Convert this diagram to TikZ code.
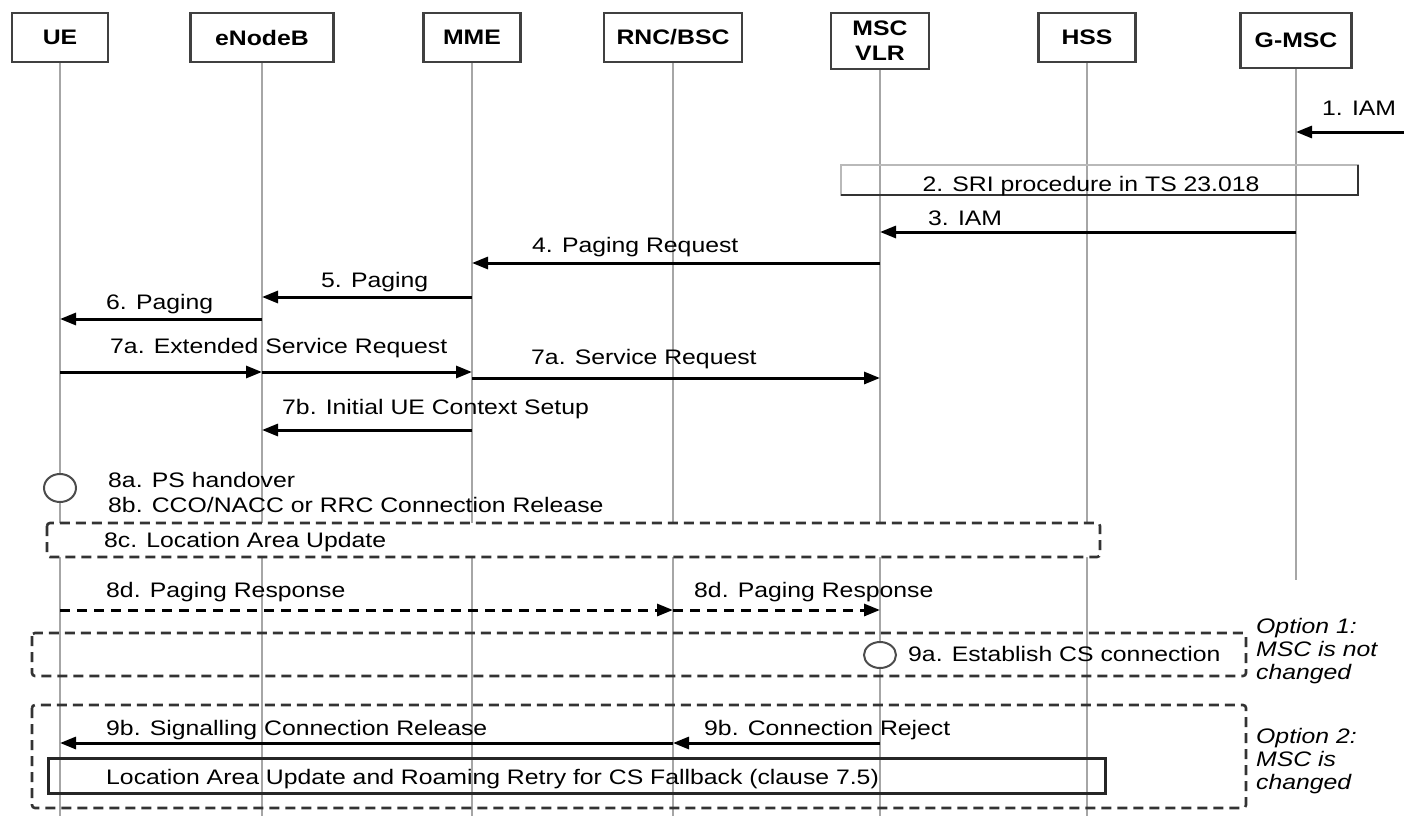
\documentclass[tikz,border=0pt]{standalone}
\usepackage{fontspec}
\setmainfont{Liberation Sans}[FakeStretch=1.18]
\usetikzlibrary{arrows.meta}

\tikzset{
	entity/.style = {draw = black!75, line width = 2.8pt, fill = white, inner sep = 0pt, align = center, font = \fontsize{21}{25}\selectfont\bfseries},
	lifeline/.style = {gray!70, line width = 1.6pt},
	msg/.style = {line width = 3pt, -{Triangle[length = 16pt, width = 12pt]}},
	dmsg/.style = {msg, dash pattern = on 10pt off 7pt},
	lbl/.style = {inner sep = 0pt, anchor = base west, font = \fontsize{21}{24}\selectfont},
	note/.style = {inner sep = 0pt, anchor = north west, align = left, font = \fontsize{21}{23}\selectfont\itshape},
	frame/.style = {draw = black!80, line width = 2.6pt, dash pattern = on 10pt off 6pt, rounded corners = 3pt},
	event/.style = {draw = black!70, line width = 2pt, fill = white}
}

\begin{document}
\begin{tikzpicture}[x = 1pt, y = -1pt]
		%canvas
		\useasboundingbox (0,0) rectangle (1404,816);
		\fill [white] (0,0) rectangle (1404,816);

		%entities
		\node [entity, minimum width = 96pt, minimum height = 49pt] (ue) at (60,37.5) {UE};
		\node [entity, minimum width = 143pt, minimum height = 49pt] (enb) at (262,37.5) {eNodeB};
		\node [entity, minimum width = 97pt, minimum height = 49pt] (mme) at (472,37.5) {MME};
		\node [entity, minimum width = 138pt, minimum height = 49pt] (rnc) at (673,37.5) {RNC/BSC};
		\node [entity, minimum width = 98pt, minimum height = 56pt] (msc) at (880,41) {MSC\\VLR};
		\node [entity, minimum width = 97pt, minimum height = 49pt] (hss) at (1087,37.5) {HSS};
		\node [entity, minimum width = 111pt, minimum height = 55pt] (gmsc) at (1296,40.5) {G-MSC};

		%lifelines
		\draw [lifeline] (ue.south) -- (ue.south |- 0,816);
		\draw [lifeline] (enb.south) -- (enb.south |- 0,816);
		\draw [lifeline] (mme.south) -- (mme.south |- 0,816);
		\draw [lifeline] (rnc.south) -- (rnc.south |- 0,816);
		\draw [lifeline] (msc.south) -- (msc.south |- 0,816);
		\draw [lifeline] (hss.south) -- (hss.south |- 0,816);
		\draw [lifeline] (gmsc.south) -- (gmsc.south |- 0,580);

		%1-3
		\coordinate (ext) at (1404,132);
		\draw [msg] (ext) -- (gmsc |- ext);
		\node [lbl] (m1) at (1322,115) {1. IAM};

		\draw [gray!55, line width = 1.8pt] (841,165) rectangle (1358,195);
		\draw [black!80, line width = 2.6pt] (841,195) -- (1358,195) -- (1358,165);
		\node [lbl, anchor = base] (m2) at (1091,191) {2. SRI procedure in TS 23.018};

		\draw [msg] (gmsc |- 0,232) -- (msc |- 0,232);
		\node [lbl] (m3) at (928,225) {3. IAM};

		%paging
		\draw [msg] (msc |- 0,263) -- (mme |- 0,263);
		\node [lbl] (m4) at (532,252) {4. Paging Request};
		\draw [msg] (mme |- 0,297) -- (enb |- 0,297);
		\node [lbl] (m5) at (321,287) {5. Paging};
		\draw [msg] (enb |- 0,319) -- (ue |- 0,319);
		\node [lbl] (m6) at (106,309) {6. Paging};

		%service request
		\draw [msg] (ue |- 0,372) -- (enb |- 0,372);
		\draw [msg] (enb |- 0,372) -- (mme |- 0,372);
		\node [lbl] (m7a) at (110,353) {7a. Extended Service Request};
		\draw [msg] (mme |- 0,378) -- (msc |- 0,378);
		\node [lbl] (m7s) at (531,364) {7a. Service Request};
		\draw [msg] (mme |- 0,430) -- (enb |- 0,430);
		\node [lbl] (m7b) at (282,414) {7b. Initial UE Context Setup};

		%handover
		\draw [event] (ue |- 0,488) ellipse [x radius = 16pt, y radius = 14pt];
		\node [lbl] (m8a) at (108,487) {8a. PS handover};
		\node [lbl] (m8b) at (108,512) {8b. CCO/NACC or RRC Connection Release};
		\draw [frame, fill = white] (47,523) rectangle (1100,557);
		\node [lbl] (m8c) at (104,547) {8c. Location Area Update};

		\draw [dmsg] (ue |- 0,610) -- (rnc |- 0,610);
		\node [lbl] (m8d) at (106,597) {8d. Paging Response};
		\draw [dmsg] (rnc |- 0,610) -- (msc |- 0,610);
		\node [lbl] (m8e) at (694,597) {8d. Paging Response};

		%option 1
		\draw [frame] (32,633) rectangle (1246,676);
		\draw [event] (msc |- 0,655) ellipse [x radius = 16pt, y radius = 13pt];
		\node [lbl] (m9a) at (908,661) {9a. Establish CS connection};
		\node [note] (opt1) at (1256,618.5) {Option 1:\\MSC is not\\changed};

		%option 2
		\draw [frame] (32,705) rectangle (1246,808);
		\draw [msg] (msc |- 0,743) -- (rnc |- 0,743);
		\node [lbl] (m9c) at (704,735) {9b. Connection Reject};
		\draw [msg] (rnc |- 0,743) -- (ue |- 0,743);
		\node [lbl] (m9b) at (106,735) {9b. Signalling Connection Release};
		\draw [black!85, line width = 3pt] (48,758) rectangle (1105,793);
		\node [lbl] (lau) at (106,784) {Location Area Update and Roaming Retry for CS Fallback (clause 7.5)};
		\node [note] (opt2) at (1256,728.5) {Option 2:\\MSC is\\changed};
	\end{tikzpicture}
\end{document}
